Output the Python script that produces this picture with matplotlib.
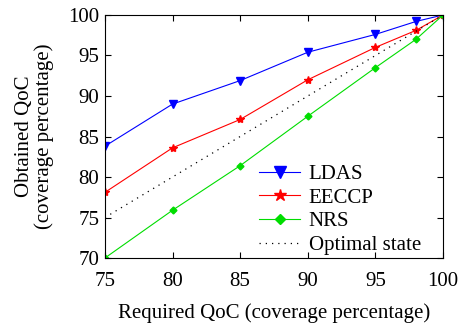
import matplotlib
matplotlib.use("Agg")
import matplotlib.pyplot as plt

x = [75, 80, 85, 90, 95, 98, 100]
ldas = [83.8, 89.0, 91.9, 95.4, 97.6, 99.2, 100.0]
eeccp = [78.1, 83.6, 87.1, 92.0, 96.0, 98.1, 100.0]
nrs = [70.0, 75.9, 81.4, 87.5, 93.5, 97.0, 100.0]
opt_x = [75, 100]
opt_y = [75, 100]
xticks = [75, 80, 85, 90, 95, 100]
yticks = [70, 75, 80, 85, 90, 95, 100]

plt.rcParams['font.family'] = ['Liberation Serif', 'DejaVu Serif']
fig = plt.figure(figsize=(4.64, 3.25), dpi=100)
ax = fig.add_axes([0.226, 0.206, 0.729, 0.748])

ax.plot(x, ldas, color='blue', lw=0.8, marker='v', ms=6, label='LDAS')
ax.plot(x, eeccp, color='red', lw=0.8, marker='*', ms=6, label='EECCP')
ax.plot(x, nrs, color='#00dd00', lw=0.8, marker='D', ms=3.5, label='NRS')
ax.plot(opt_x, opt_y, color='black', lw=0.9, ls=(0, (1, 4)), label='Optimal state')

ax.set_xlim(75, 100)
ax.set_ylim(70, 100)
ax.set_xticks(xticks)
ax.set_yticks(yticks)
ax.tick_params(direction='in', top=True, right=True, labelsize=15, length=4)
ax.tick_params(axis='x', pad=10)
ax.tick_params(axis='y', pad=4)
for s in ax.spines.values():
    s.set_linewidth(0.8)
ax.set_xlabel('Required QoC (coverage percentage)', fontsize=15, labelpad=9)
ax.set_ylabel('Obtained QoC\n(coverage percentage)', fontsize=15, labelpad=10, linespacing=1.05)
leg = ax.legend(loc='lower right', frameon=False, fontsize=15, handlelength=2.0,
                handletextpad=0.4, labelspacing=0.2, bbox_to_anchor=(0.99, -0.065),
                markerscale=1.5)
fig.savefig('out.png', dpi=100)
